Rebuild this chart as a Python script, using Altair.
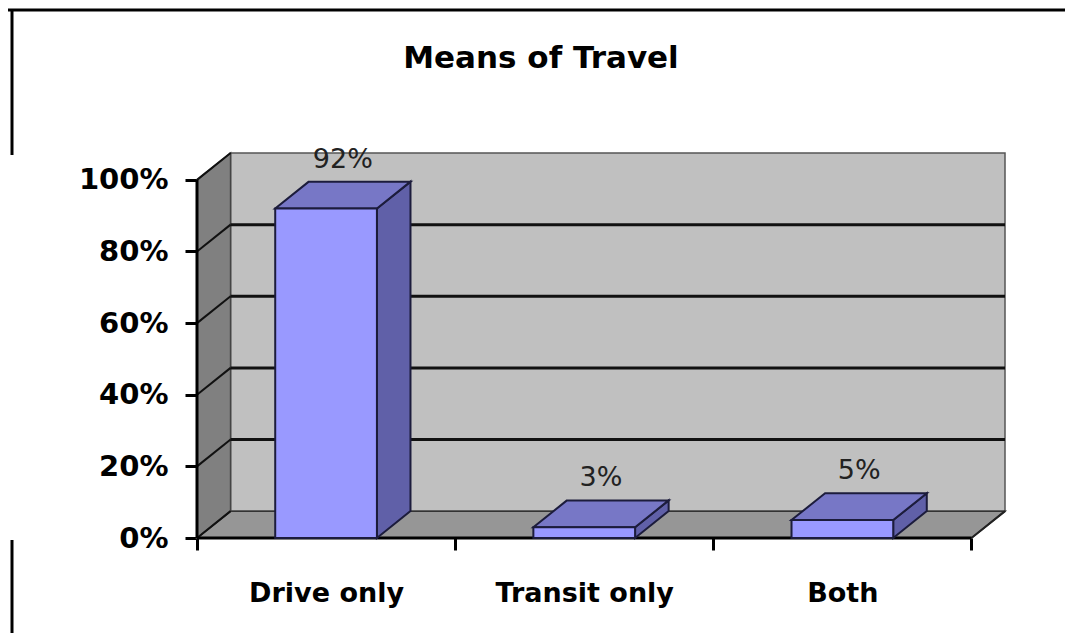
import altair as alt
import pandas as pd

# ---- data ----
categories = ["Drive only", "Transit only", "Both"]
values = [92, 3, 5]
bar_labels = ["92%", "3%", "5%"]
y_ticks = [0, 20, 40, 60, 80, 100]
grid_levels = [20, 40, 60, 80]
title_text = "Means of Travel"

# ---- 3D styling constants (in data units) ----
DX = 0.13     # depth along x (category units)
DY = 7.5      # depth along y (percent units)
HALF = 0.197  # half bar width
N = len(categories)
XMAX = N + DX
YMAX = 100 + DY
W, H = 808, 385

FONT = "DejaVu Sans"
FRONT, TOP, SIDE, EDGE = "#9999ff", "#7777c6", "#6060a8", "#1c1c3c"

xs = alt.Scale(domain=[0, XMAX], nice=False, zero=False)
ys = alt.Scale(domain=[0, YMAX], nice=False, zero=False)

bars = pd.DataFrame({"name": categories, "i": list(range(N)), "v": values, "label": bar_labels})
bars["x0"] = bars["i"] + 0.5 - HALF
bars["x1"] = bars["i"] + 0.5 + HALF
bars["zero"] = 0
bars["lx"] = bars["i"] + 0.5 + DX / 2
bars["ly"] = bars["v"] + DY

side_rows, top_rows = [], []
for r in bars.to_dict("records"):
    side_rows.append({"name": r["name"], "x": r["x1"], "y": r["v"], "y2": 0})
    side_rows.append({"name": r["name"], "x": r["x1"] + DX, "y": r["v"] + DY, "y2": DY})
    top_rows.append({"name": r["name"], "y": r["v"], "x": r["x0"], "x2": r["x1"]})
    top_rows.append({"name": r["name"], "y": r["v"] + DY, "x": r["x0"] + DX, "x2": r["x1"] + DX})
side_df = pd.DataFrame(side_rows)
top_df = pd.DataFrame(top_rows)

xaxis = alt.Axis(
    values=[0, 0.5, 1, 1.5, 2, 2.5, 3],
    labelExpr="datum.value % 1 === 0 ? '' : " + str(categories) + "[floor(datum.value)]",
    tickOpacity={"condition": {"test": "datum.value % 1 === 0", "value": 1}, "value": 0},
    domain=False, grid=False, tickSize=12, tickWidth=3, tickColor="black",
    labelPadding=30, labelFont=FONT, labelFontSize=27, labelFontWeight="bold",
    labelColor="black", labelOverlap=False, labelFlush=False, title=None,
)
yaxis = alt.Axis(
    values=y_ticks, labelExpr="datum.value + '%'", domain=False, grid=False,
    tickSize=12, tickWidth=3, tickColor="black", labelPadding=17,
    labelFont=FONT, labelFontSize=29, labelFontWeight="bold", labelColor="black",
    title=None,
)


def X(field):
    return alt.X(field, scale=xs, axis=xaxis)


def Y(field):
    return alt.Y(field, scale=ys, axis=yaxis)


# back wall
back = alt.Chart(pd.DataFrame({"x0": [DX], "x1": [XMAX], "y0": [DY], "y1": [YMAX]})).mark_rect(
    fill="#c0c0c0", stroke="#555555", strokeWidth=1.5
).encode(x=X("x0:Q"), x2="x1:Q", y=Y("y0:Q"), y2="y1:Q")

# floor
floor = alt.Chart(pd.DataFrame({"y": [0, DY], "x": [0, DX], "x2": [N, XMAX]})).mark_area(
    orient="horizontal", fill="#969696", stroke="#333333", strokeWidth=1.5
).encode(y=Y("y:Q"), x=X("x:Q"), x2="x2:Q")

# left wall
left = alt.Chart(pd.DataFrame({"x": [0, DX], "y": [100, YMAX], "y2": [0, DY]})).mark_area(
    fill="#808080", stroke="#444444", strokeWidth=1.5
).encode(x=X("x:Q"), y=Y("y:Q"), y2="y2:Q")

# gridlines on back wall
grid_df = pd.DataFrame({"v": grid_levels})
grid_df["yb"] = grid_df["v"] + DY
grid_df["xa"] = DX
grid_df["xb"] = XMAX
grid = alt.Chart(grid_df).mark_rule(color="#111111", strokeWidth=3).encode(
    x=X("xa:Q"), x2="xb:Q", y=Y("yb:Q")
)

# diagonals on left wall
diag_df = pd.DataFrame({"v": y_ticks})
diag_df["vb"] = diag_df["v"] + DY
diag_df["xa"] = 0
diag_df["xb"] = DX
diag = alt.Chart(diag_df).mark_rule(color="#111111", strokeWidth=2).encode(
    x=X("xa:Q"), x2="xb:Q", y=Y("v:Q"), y2="vb:Q"
)

# floor right edge
fr = alt.Chart(pd.DataFrame({"xa": [N], "xb": [XMAX], "ya": [0], "yb": [DY]})).mark_rule(
    color="#222222", strokeWidth=2
).encode(x=X("xa:Q"), x2="xb:Q", y=Y("ya:Q"), y2="yb:Q")

# y axis line (front edge of left wall) and x axis line (front edge of floor)
yline = alt.Chart(pd.DataFrame({"x": [0], "ya": [0], "yb": [100]})).mark_rule(
    color="black", strokeWidth=3
).encode(x=X("x:Q"), y=Y("ya:Q"), y2="yb:Q")
xline = alt.Chart(pd.DataFrame({"xa": [0], "xb": [N], "y": [0]})).mark_rule(
    color="black", strokeWidth=3
).encode(x=X("xa:Q"), x2="xb:Q", y=Y("y:Q"))

# bars
side = alt.Chart(side_df).mark_area(fill=SIDE, stroke=EDGE, strokeWidth=2).encode(
    x=X("x:Q"), y=Y("y:Q"), y2="y2:Q", detail="name:N"
)
top = alt.Chart(top_df).mark_area(orient="horizontal", fill=TOP, stroke=EDGE, strokeWidth=2).encode(
    y=Y("y:Q"), x=X("x:Q"), x2="x2:Q", detail="name:N"
)
front = alt.Chart(bars).mark_rect(fill=FRONT, stroke=EDGE, strokeWidth=2).encode(
    x=X("x0:Q"), x2="x1:Q", y=Y("zero:Q"), y2="v:Q"
)
labels = alt.Chart(bars).mark_text(
    font=FONT, fontSize=27, color="#222222", baseline="alphabetic", dy=-14
).encode(x=X("lx:Q"), y=Y("ly:Q"), text="label:N")

# chart title and outer frame
title = alt.Chart(pd.DataFrame({"t": [title_text]})).mark_text(
    font=FONT, fontSize=31, fontWeight="bold", color="black", baseline="alphabetic", align="center"
).encode(x=alt.value(344), y=alt.value(-85), text="t:N")

frame_df = pd.DataFrame({"k": [0]})
frame_top = alt.Chart(frame_df).mark_rule(color="black", strokeWidth=3).encode(
    x=alt.value(-189), x2=alt.value(868), y=alt.value(-143)
)
frame_l1 = alt.Chart(frame_df).mark_rule(color="black", strokeWidth=3).encode(
    x=alt.value(-185), y=alt.value(-144), y2=alt.value(2)
)
frame_l2 = alt.Chart(frame_df).mark_rule(color="black", strokeWidth=3).encode(
    x=alt.value(-185), y=alt.value(387), y2=alt.value(480)
)

chart = alt.layer(
    back, floor, left, grid, diag, fr, yline, xline, side, top, front, labels,
    title, frame_top, frame_l1, frame_l2,
).properties(
    width=W, height=H,
    padding={"left": 189, "top": 145, "right": 60, "bottom": 95},
    autosize=alt.AutoSizeParams(type="none"),
    background="white",
).configure_view(stroke=None)

chart.save("out.html", embed_options={"renderer": "svg", "actions": False})
